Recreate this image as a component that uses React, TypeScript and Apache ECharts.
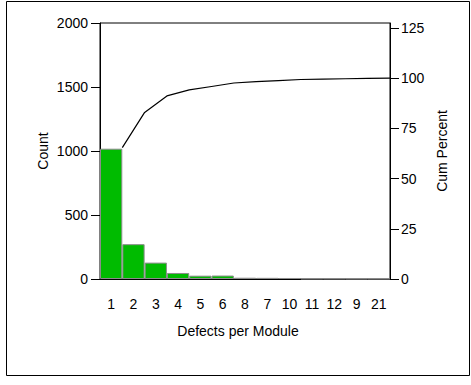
import React, { useEffect, useRef } from "react";
import * as echarts from "echarts";

const categories = ["1", "2", "3", "4", "5", "6", "8", "7", "10", "11", "12", "9", "21"];
const counts = [1018, 272, 128, 47, 26, 27, 10, 9, 8, 3, 3, 2, 2];
const countTicks = [0, 500, 1000, 1500, 2000];
const percentTicks = [0, 25, 50, 75, 100, 125];

const FONT = 'Arial, "Liberation Sans", sans-serif';

export default function App() {
  const ref = useRef<HTMLDivElement>(null);
  useEffect(() => {
    document.body.style.margin = "0";
    if (!ref.current) return;
    const chart = echarts.init(ref.current, null, { renderer: "svg" });
    const total = counts.reduce((a, b) => a + b, 0);
    let run = 0;
    const cum = counts.map((c, i) => {
      run += c;
      return [i + 1, (run / total) * 100];
    });
    chart.setOption({
      animation: false,
      backgroundColor: "#fff",
      textStyle: { fontFamily: FONT },
      grid: {
        left: 100,
        right: 81,
        top: 23,
        bottom: 106,
        show: true,
        borderColor: "#000",
        borderWidth: 1,
      },
      xAxis: [
        {
          type: "category",
          data: categories,
          axisLine: { lineStyle: { color: "#000", width: 1 } },
          axisTick: { alignWithLabel: true, length: 6, lineStyle: { color: "#000" } },
          axisLabel: { margin: 18, fontSize: 14, color: "#000", fontFamily: FONT, interval: 0 },
          splitLine: { show: false },
        },
        { type: "value", min: 0, max: categories.length, show: false },
      ],
      yAxis: [
        {
          type: "value",
          min: countTicks[0],
          max: countTicks[countTicks.length - 1],
          interval: 500,
          position: "left",
          axisLine: { show: true, lineStyle: { color: "#000", width: 1 } },
          axisTick: { show: true, length: 9, lineStyle: { color: "#000" } },
          axisLabel: {
            margin: 12,
            fontSize: 14,
            color: "#000",
            fontFamily: FONT,
            formatter: (v: number) => String(v),
          },
          splitLine: { show: false },
        },
        {
          type: "value",
          min: 0,
          max: 127.5,
          position: "right",
          axisLine: { show: true, lineStyle: { color: "#000", width: 1 } },
          axisTick: { show: true, length: 9, customValues: percentTicks, lineStyle: { color: "#000" } },
          axisLabel: {
            margin: 11,
            fontSize: 14,
            color: "#000",
            fontFamily: FONT,
            customValues: percentTicks,
            formatter: (v: number) => String(v),
          },
          splitLine: { show: false },
        },
      ],
      series: [
        {
          type: "bar",
          xAxisIndex: 0,
          yAxisIndex: 0,
          data: counts,
          barCategoryGap: "0%",
          itemStyle: { color: "#00bb00", borderColor: "#8c8c8c", borderWidth: 1 },
        },
        {
          type: "line",
          xAxisIndex: 1,
          yAxisIndex: 1,
          data: cum,
          showSymbol: false,
          symbol: "none",
          lineStyle: { color: "#000", width: 1.2 },
        },
      ],
      graphic: [
        {
          type: "rect",
          shape: { x: 6.5, y: 1.5, width: 463, height: 374 },
          style: { fill: "none", stroke: "#000", lineWidth: 1 },
          silent: true,
        },
        {
          type: "text",
          x: 43,
          y: 151,
          rotation: Math.PI / 2,
          style: { text: "Count", fontSize: 14, fontFamily: FONT, fill: "#000", textAlign: "center", textVerticalAlign: "middle" },
        },
        {
          type: "text",
          x: 442,
          y: 151,
          rotation: Math.PI / 2,
          style: { text: "Cum Percent", fontSize: 14, fontFamily: FONT, fill: "#000", textAlign: "center", textVerticalAlign: "middle" },
        },
        {
          type: "text",
          x: 238,
          y: 331,
          style: { text: "Defects per Module", fontSize: 14, fontFamily: FONT, fill: "#000", textAlign: "center", textVerticalAlign: "middle" },
        },
      ],
    });
    return () => chart.dispose();
  }, []);
  return <div ref={ref} style={{ width: 471, height: 385 }} />;
}
